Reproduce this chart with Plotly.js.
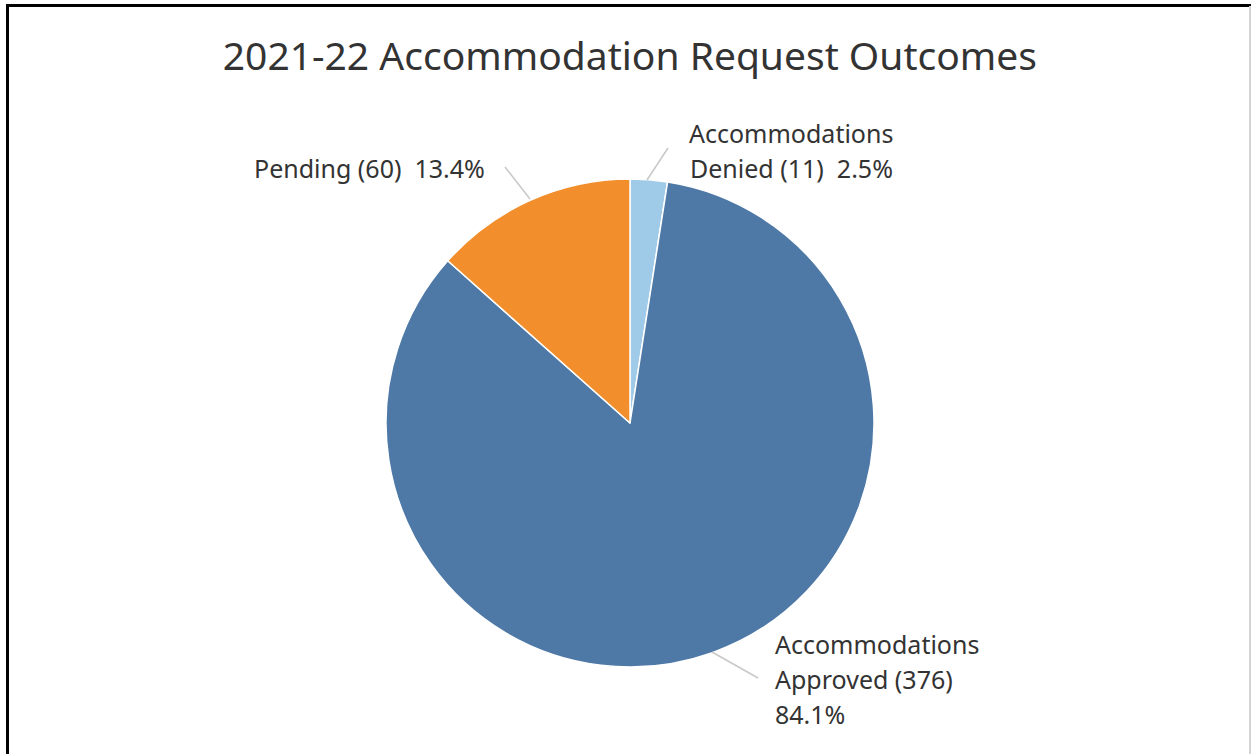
<!DOCTYPE html>
<html>
<head>
<meta charset="utf-8">
<script src="https://cdn.plot.ly/plotly-3.0.1.min.js"></script>
<style>
  html, body { margin: 0; padding: 0; background: #fff; }
  #wrap { position: relative; width: 1251px; height: 754px; overflow: hidden; }
  #chart { position: absolute; left: 0; top: 0; width: 1251px; height: 754px; }
  #bl { position: absolute; left: 6px; top: 4px; width: 3px; height: 760px; background: #000; }
  #bt { position: absolute; left: 6px; top: 4px; width: 1245px; height: 3px; background: #000; }
  #br { position: absolute; left: 1249px; top: 6px; width: 2px; height: 760px; background: #d4d4d4; }
</style>
</head>
<body>
<div id="wrap">
  <div id="chart"></div>
  <div id="bl"></div><div id="bt"></div><div id="br"></div>
</div>
<script>
// ---- data ----
const categories = ["Accommodations Denied", "Accommodations Approved", "Pending"];
const counts = [11, 376, 60];
const colors = ["#A0CBE8", "#4E79A7", "#F28E2B"];
const titleText = "2021-22 Accommodation Request Outcomes";

const total = counts.reduce((a, b) => a + b, 0);
const pct = counts.map(c => (100 * c / total).toFixed(1) + "%");

const W = 1251, H = 754;
const cx = 630, cy = 423, R = 244;
const px = x => x / W;
const py = y => 1 - y / H;

const font = "Noto Sans, Open Sans, sans-serif";
const textColor = "#333333";
const fs = 25;

// label lines (each entry: lines of text, anchor)
const labelLines = [
  { lines: ["Accommodations", "Denied (" + counts[0] + ")  " + pct[0]], x: 791, y0: 133, dy: 35, anchor: "center" },
  { lines: ["Accommodations", "Approved (" + counts[1] + ")", pct[1]], x: 773, y0: 644, dy: 35, anchor: "left" },
  { lines: ["Pending (" + counts[2] + ")  " + pct[2]], x: 369, y0: 168, dy: 35, anchor: "center" }
];

const annotations = [];
labelLines.forEach(l => {
  l.lines.forEach((t, i) => {
    annotations.push({
      xref: "paper", yref: "paper",
      x: px(l.x), y: py(l.y0 + i * l.dy),
      xanchor: l.anchor, yanchor: "middle",
      text: t, showarrow: false,
      font: { family: font, size: fs, color: textColor }
    });
  });
});

const leaders = [
  [668, 148, 647, 180],
  [505, 167, 530, 199],
  [712, 652, 758, 678]
];
const shapes = leaders.map(s => ({
  type: "line", xref: "paper", yref: "paper",
  x0: px(s[0]), y0: py(s[1]), x1: px(s[2]), y1: py(s[3]),
  line: { color: "#c8c8c8", width: 1.5 }
}));

const trace = {
  type: "pie",
  labels: categories,
  values: counts,
  sort: false,
  direction: "clockwise",
  rotation: 0,
  marker: { colors: colors, line: { color: "#ffffff", width: 1.5 } },
  textinfo: "none",
  hoverinfo: "label+value+percent",
  domain: { x: [px(cx - R), px(cx + R)], y: [py(cy + R), py(cy - R)] },
  showlegend: false
};

const layout = {
  width: W, height: H,
  margin: { l: 0, r: 0, t: 0, b: 0 },
  paper_bgcolor: "#ffffff",
  title: {
    text: titleText,
    x: 0.5035, xanchor: "center",
    y: py(56), yanchor: "middle",
    font: { family: font, size: 39, color: textColor }
  },
  annotations: annotations,
  shapes: shapes,
  showlegend: false
};

Plotly.newPlot("chart", [trace], layout, { displayModeBar: false, staticPlot: true });
</script>
</body>
</html>
